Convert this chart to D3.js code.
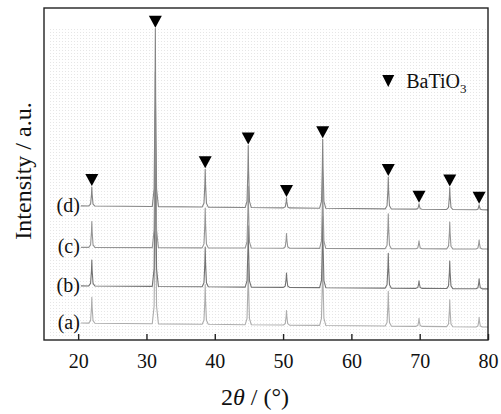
<!doctype html>
<html lang="en">
<head>
<meta charset="UTF-8">
<title>XRD</title>
<script src="https://d3js.org/d3.v7.min.js"></script>
<style>
  body { margin: 0; background: #fff; }
  text { font-family: "Liberation Serif", "Times New Roman", serif; fill: #111; }
</style>
</head>
<body>
<div id="chart-area"></div>
<script>

// peak positions (2theta, deg) of BaTiO3 reflections
const peakPos = [22.0, 31.3, 38.6, 44.9, 50.5, 55.8, 65.4, 69.9, 74.4, 78.7];

// peak heights above background (a.u.) for each sample
const heightsA = [7.8, 53.0, 12.0, 18.5, 4.4, 21.5, 10.5, 2.4, 8.1, 2.9];
const heightsB = [7.8, 53.0, 12.0, 18.5, 4.3, 21.5, 10.5, 2.3, 8.3, 3.0];
const heightsC = [7.8, 53.0, 12.0, 18.5, 4.4, 21.5, 10.5, 2.4, 8.1, 2.7];
const heightsD = [5.7, 53.6, 11.4, 18.7, 3.0, 20.8, 9.6, 1.6, 6.6, 1.5];

// background level at start / end of scan
const baseStart = [5.1, 16.3, 27.9, 40.4];
const baseEnd   = [3.9, 15.4, 27.4, 39.2];

const seriesNames = ['(a)', '(b)', '(c)', '(d)'];
const seriesColors = ['#adadad', '#737373', '#959595', '#858585'];
const scanRange = [20.4, 80];
const xTicks = [20, 30, 40, 50, 60, 70, 80];

const W = 501, H = 414;
const margin = { top: 8, right: 13, bottom: 74, left: 44 };
const chartW = W - margin.left - margin.right;
const chartH = H - margin.top - margin.bottom;
const serif = '"Liberation Serif", "Times New Roman", serif';

const svg = d3.select('#chart-area')
    .append('svg')
    .attr('width', W)
    .attr('height', H);

// faint stipple of the scanned figure
const defs = svg.append('defs');
defs.append('pattern')
    .attr('id', 'dots')
    .attr('width', 3).attr('height', 3)
    .attr('patternUnits', 'userSpaceOnUse')
  .append('rect')
    .attr('width', 1).attr('height', 1)
    .attr('fill', '#e6e6e6');

const g = svg.append('g')
    .attr('transform', `translate(${margin.left},${margin.top})`);

const x = d3.scaleLinear().domain([15, 80]).range([0, chartW]);
const y = d3.scaleLinear().domain([0, 100]).range([chartH, 0]);

g.append('rect')
    .attr('x', 4).attr('y', 21)
    .attr('width', chartW - 6).attr('height', chartH - 23)
    .attr('fill', 'url(#dots)');

// simple peak profile: offset in deg, fraction of height
const profile = [[-0.45, 0], [-0.18, 0.1], [-0.05, 0.6], [0, 1], [0.05, 0.6], [0.18, 0.1], [0.45, 0]];

const allHeights = [heightsA, heightsB, heightsC, heightsD];

const line = d3.line()
    .x(d => x(d[0]))
    .y(d => y(d[1]));

allHeights.forEach((hs, si) => {
    const base = d3.scaleLinear().domain(scanRange).range([baseStart[si], baseEnd[si]]);
    const pts = [[scanRange[0], base(scanRange[0])]];
    peakPos.forEach((p, i) => {
        profile.forEach(([dx, f]) => {
            const t = Math.min(p + dx, scanRange[1]);
            pts.push([t, base(t) + f * hs[i]]);
        });
    });
    pts.push([scanRange[1], base(scanRange[1])]);

    g.append('path')
        .datum(pts)
        .attr('d', line)
        .attr('fill', 'none')
        .attr('stroke', seriesColors[si])
        .attr('stroke-width', 1.1)
        .attr('stroke-linejoin', 'round');

    g.append('text')
        .attr('x', x(scanRange[0]) - 1)
        .attr('y', y(baseStart[si]) + 6)
        .attr('text-anchor', 'end')
        .attr('font-size', 20)
        .text(seriesNames[si]);
});

// triangle markers above top pattern
const baseD = d3.scaleLinear().domain(scanRange).range([baseStart[3], baseEnd[3]]);
g.selectAll('.mark')
    .data(peakPos)
    .enter()
    .append('path')
    .attr('class', 'mark')
    .attr('d', (p, i) => {
        const cx = x(p), ty = y(baseD(p) + heightsD[i]) - 1;
        return `M${cx - 6.5},${ty - 12}L${cx + 6.5},${ty - 12}L${cx},${ty}Z`;
    })
    .attr('fill', '#000');

// frame
g.append('rect')
    .attr('width', chartW).attr('height', chartH)
    .attr('fill', 'none')
    .attr('stroke', '#222')
    .attr('stroke-width', 1.4);

// bottom axis, ticks inside
const xAxis = g.append('g')
    .attr('transform', `translate(0,${chartH})`)
    .call(d3.axisBottom(x).tickValues(xTicks).tickSizeInner(-6).tickSizeOuter(0).tickPadding(14))
    .attr('font-family', serif)
    .attr('font-size', 20);
xAxis.select('.domain').remove();
xAxis.selectAll('line').attr('stroke', '#222').attr('stroke-width', 1.4);
xAxis.selectAll('text')
    .style('font-family', serif)
    .attr('fill', '#111');

// legend
const lg = g.append('g').attr('transform', `translate(${x(65.4)},${y(78)})`);
lg.append('path').attr('d', 'M-6,-6L6,-6L0,6Z').attr('fill', '#000');
const lt = lg.append('text').attr('x', 18).attr('y', 7).attr('font-size', 20);
lt.append('tspan').text('BaTiO');
lt.append('tspan').attr('dy', 5).attr('font-size', 13).text('3');

// axis titles
const xt = svg.append('text')
    .attr('x', 255).attr('y', 405)
    .attr('text-anchor', 'middle')
    .attr('font-size', 24);
xt.append('tspan').text('2');
xt.append('tspan').attr('font-style', 'italic').text('θ');
xt.append('tspan').text(' / (°)');

svg.append('text')
    .attr('transform', 'translate(31,171) rotate(-90)')
    .attr('text-anchor', 'middle')
    .attr('font-size', 24)
    .text('Intensity / a.u.');

</script>
</body>
</html>
